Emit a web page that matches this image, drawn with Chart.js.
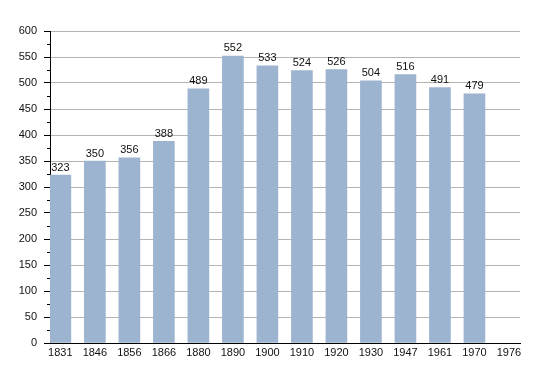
<!DOCTYPE html>
<html>
<head>
<meta charset="utf-8">
<script src="https://cdn.jsdelivr.net/npm/chart.js@4"></script>
<style>
  html, body { margin: 0; padding: 0; background: #fff; }
  #wrap { width: 550px; height: 373px; }
</style>
</head>
<body>
<div id="wrap"><canvas id="chart"></canvas></div>
<script>
// population by census year
var years = ['1831', '1846', '1856', '1866', '1880', '1890', '1900', '1910', '1920', '1930', '1947', '1961', '1970', '1976'];
var population = [323, 350, 356, 388, 489, 552, 533, 524, 526, 504, 516, 491, 479, null];

var points = years.map(function (y, i) { return { x: i, y: population[i] }; })
                  .filter(function (p) { return p.y !== null; });

// value labels above the bars + short minor ticks on the y axis
var extras = {
    id: 'extras',
    afterDatasetsDraw: function (chart) {
        var ctx = chart.ctx;
        var meta = chart.getDatasetMeta(0);
        ctx.save();
        ctx.font = '11px "Liberation Sans", Arial, sans-serif';
        ctx.fillStyle = '#111';
        ctx.textAlign = 'center';
        ctx.textBaseline = 'bottom';
        meta.data.forEach(function (bar, i) {
            ctx.fillText(points[i].y, bar.x, bar.y - 2);
        });
        var ys = chart.scales.y;
        ctx.strokeStyle = '#000';
        ctx.lineWidth = 1;
        for (var v = 25; v < 600; v += 50) {
            var py = Math.round(ys.getPixelForValue(v)) + 0.5;
            ctx.beginPath();
            ctx.moveTo(ys.right - 3, py);
            ctx.lineTo(ys.right, py);
            ctx.stroke();
        }
        ctx.restore();
    }
};

new Chart(document.getElementById('chart'), {
    type: 'bar',
    data: {
        datasets: [{
            data: points,
            backgroundColor: '#9cb4cf',
            borderWidth: 0,
            barThickness: 21
        }]
    },
    options: {
        responsive: true,
        maintainAspectRatio: false,
        animation: false,
        layout: { padding: { left: 0, right: 30, top: 31, bottom: 0 } },
        plugins: { legend: { display: false }, tooltip: { enabled: false } },
        scales: {
            x: {
                type: 'linear',
                min: -0.3,
                max: 13.32,
                offset: false,
                afterBuildTicks: function (axis) {
                    axis.ticks = years.map(function (y, i) { return { value: i }; });
                },
                afterFit: function (axis) { axis.height = 30; },
                ticks: {
                    autoSkip: false,
                    maxRotation: 0,
                    padding: 3,
                    color: '#111',
                    font: { family: '"Liberation Sans", Arial, sans-serif', size: 11 },
                    callback: function (v) { return years[v]; }
                },
                grid: { display: false, drawTicks: false },
                border: { display: true, color: '#000', width: 1 }
            },
            y: {
                min: 0,
                max: 600,
                afterFit: function (axis) { axis.width = 50; },
                ticks: {
                    stepSize: 25,
                    padding: 7,
                    color: '#111',
                    font: { family: '"Liberation Sans", Arial, sans-serif', size: 11 },
                    callback: function (v) { return v % 50 === 0 ? v : ''; }
                },
                grid: {
                    color: function (c) { return c.tick.value % 50 === 0 ? '#b4b4b4' : '#e8e8e8'; },
                    tickColor: function (c) { return c.tick.value % 50 === 0 ? '#000' : 'rgba(0,0,0,0)'; },
                    tickLength: 6
                },
                border: { display: true, color: '#000', width: 1 }
            }
        }
    },
    plugins: [extras]
});
</script>
</body>
</html>
